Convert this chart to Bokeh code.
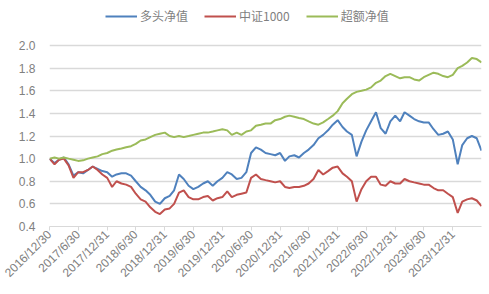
import math
import pandas as pd
from bokeh.plotting import figure
from bokeh.models import (ColumnDataSource, FixedTicker, Legend, LegendItem, Range1d,
                          PrintfTickFormatter)
from bokeh.embed import file_html
from bokeh.resources import INLINE

# ---- data (monthly readings, 2016/12 .. 2024/06) ----
dates = pd.date_range("2016-12-31", periods=91, freq="ME")

long_nav = [1.00, 0.96, 0.99, 1.01, 0.95, 0.85, 0.88, 0.87, 0.90, 0.93, 0.91, 0.89,
            0.88, 0.84, 0.86, 0.87, 0.87, 0.85, 0.80, 0.75, 0.72, 0.68, 0.62, 0.60,
            0.65, 0.67, 0.72, 0.86, 0.82, 0.76, 0.73, 0.75, 0.78, 0.80, 0.76, 0.80,
            0.83, 0.88, 0.86, 0.82, 0.83, 0.88, 1.05, 1.10, 1.08, 1.05, 1.04, 1.03,
            1.05, 0.98, 1.02, 1.03, 1.01, 1.05, 1.08, 1.12, 1.18, 1.21, 1.25, 1.30,
            1.34, 1.28, 1.24, 1.21, 1.02, 1.15, 1.25, 1.33, 1.41, 1.27, 1.22, 1.33,
            1.38, 1.33, 1.41, 1.38, 1.35, 1.33, 1.32, 1.32, 1.26, 1.21, 1.22, 1.24,
            1.17, 0.95, 1.12, 1.18, 1.20, 1.18, 1.07]

csi1000 = [1.00, 0.95, 0.99, 1.00, 0.94, 0.83, 0.88, 0.88, 0.90, 0.93, 0.90, 0.86,
           0.83, 0.75, 0.80, 0.78, 0.77, 0.75, 0.69, 0.64, 0.62, 0.57, 0.53, 0.51,
           0.55, 0.56, 0.60, 0.70, 0.72, 0.66, 0.64, 0.64, 0.66, 0.67, 0.63, 0.65,
           0.66, 0.71, 0.66, 0.68, 0.69, 0.70, 0.83, 0.86, 0.82, 0.81, 0.80, 0.79,
           0.80, 0.75, 0.74, 0.75, 0.75, 0.76, 0.78, 0.82, 0.90, 0.86, 0.89, 0.92,
           0.93, 0.87, 0.84, 0.80, 0.62, 0.73, 0.80, 0.84, 0.84, 0.77, 0.76, 0.80,
           0.78, 0.78, 0.82, 0.80, 0.79, 0.78, 0.77, 0.77, 0.74, 0.72, 0.72, 0.69,
           0.66, 0.52, 0.62, 0.64, 0.65, 0.63, 0.58]

excess_nav = [1.00, 1.01, 1.00, 1.01, 1.00, 0.99, 0.98, 0.985, 1.00, 1.01, 1.02, 1.04,
              1.05, 1.07, 1.08, 1.09, 1.10, 1.11, 1.13, 1.16, 1.17, 1.19, 1.21, 1.22,
              1.23, 1.20, 1.19, 1.20, 1.19, 1.20, 1.21, 1.22, 1.23, 1.23, 1.24, 1.25,
              1.26, 1.25, 1.21, 1.23, 1.21, 1.24, 1.25, 1.29, 1.30, 1.31, 1.31, 1.34,
              1.35, 1.37, 1.38, 1.37, 1.36, 1.35, 1.33, 1.31, 1.30, 1.32, 1.35, 1.38,
              1.42, 1.49, 1.53, 1.57, 1.59, 1.60, 1.61, 1.63, 1.67, 1.69, 1.73, 1.75,
              1.73, 1.71, 1.72, 1.72, 1.70, 1.69, 1.72, 1.74, 1.76, 1.75, 1.73, 1.72,
              1.74, 1.80, 1.82, 1.85, 1.89, 1.88, 1.85]

tick_labels = ["2016/12/30", "2017/6/30", "2017/12/31", "2018/6/30", "2018/12/31",
               "2019/6/30", "2019/12/31", "2020/6/30", "2020/12/31", "2021/6/30",
               "2021/12/31", "2022/6/30", "2022/12/31", "2023/6/30", "2023/12/31"]
y_ticks = [0.4, 0.6, 0.8, 1.0, 1.2, 1.4, 1.6, 1.8, 2.0]

series_names = ["多头净值", "中证1000", "超额净值"]
series_colors = ["#4F81BD", "#C0504D", "#9BBB59"]

# ---- build ----
origin = pd.Timestamp("2016-12-30")
xday = [(d - origin).days for d in dates]
tick_days = [(pd.Timestamp(t.replace("/", "-")) - origin).days for t in tick_labels]

src = ColumnDataSource(dict(x=xday, a=long_nav, b=csi1000, c=excess_nav))

p = figure(width=489, height=294, output_backend="svg", toolbar_location=None,
           x_range=Range1d(0, xday[-1]), y_range=Range1d(0.4, 2.398),
           min_border_left=49, min_border_right=8, min_border_top=0, min_border_bottom=68)
p.outline_line_color = None
p.background_fill_color = "white"
p.border_fill_color = "white"

renderers = []
for col, color in zip(["a", "b", "c"], series_colors):
    r = p.line("x", col, source=src, line_color=color, line_width=2)
    renderers.append(r)

items = [LegendItem(label=n, renderers=[r]) for n, r in zip(series_names, renderers)]
legend = Legend(items=items, orientation="horizontal", location=(56, 202),
                glyph_width=32, glyph_height=12, label_text_font_size="12px",
                label_text_color="#7f7f7f", label_text_font="Noto Sans CJK SC",
                background_fill_alpha=0, border_line_color=None, spacing=16,
                padding=2, margin=0, label_standoff=3)
p.add_layout(legend, "center")

# y axis
p.yaxis.ticker = FixedTicker(ticks=y_ticks)
p.yaxis.formatter = PrintfTickFormatter(format="%.1f")
p.yaxis.axis_line_color = None
p.yaxis.major_tick_line_color = None
p.yaxis.minor_tick_line_color = None
p.yaxis.major_label_text_font = "Liberation Sans"
p.yaxis.major_label_text_font_size = "12px"
p.yaxis.major_label_text_color = "#808080"
p.yaxis.major_label_standoff = 8

# x axis
p.xaxis.ticker = FixedTicker(ticks=tick_days)
p.xaxis.major_label_overrides = {d: t for d, t in zip(tick_days, tick_labels)}
p.xaxis.major_label_orientation = math.pi / 4
p.xaxis.axis_line_color = "#d9d9d9"
p.xaxis.major_tick_line_color = "#d9d9d9"
p.xaxis.major_tick_in = 0
p.xaxis.major_tick_out = 4
p.xaxis.minor_tick_line_color = None
p.xaxis.major_label_text_font = "Liberation Sans"
p.xaxis.major_label_text_font_size = "12px"
p.xaxis.major_label_text_color = "#808080"
p.xaxis.major_label_standoff = 2

p.xgrid.grid_line_color = None
p.ygrid.grid_line_color = "#d9d9d9"
p.ygrid.grid_line_width = 1.5

open("out.html", "w").write(file_html(p, INLINE))
